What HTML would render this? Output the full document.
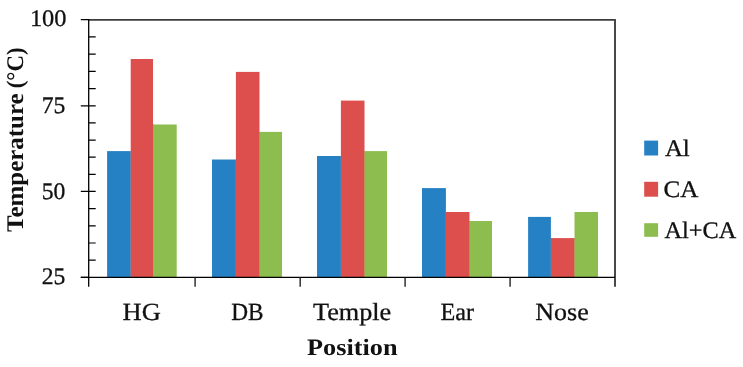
<!DOCTYPE html>
<html lang="en"><head><meta charset="utf-8"><title>Temperature by position</title>
<style>html,body{margin:0;padding:0;background:#fff}svg{display:block}text{font-family:"Liberation Serif",serif;fill:#111;text-rendering:geometricPrecision}text.r{stroke:#111;stroke-width:.3px}</style></head><body>
<svg width="743" height="367" viewBox="0 0 743 367">
<rect width="743" height="367" fill="#fff"/>
<rect x="107.1" y="151.1" width="23.6" height="126.3" fill="#2581c4"/>
<rect x="130.5" y="151.1" width="1.2" height="126.3" fill="#2581c4"/>
<rect x="130.7" y="59.0" width="22.3" height="218.4" fill="#dd4f4d"/>
<rect x="152.8" y="124.5" width="1.2" height="152.9" fill="#dd4f4d"/>
<rect x="153.0" y="124.5" width="23.7" height="152.9" fill="#8dbd4f"/>
<rect x="212.0" y="159.5" width="23.9" height="117.9" fill="#2581c4"/>
<rect x="235.7" y="159.5" width="1.2" height="117.9" fill="#2581c4"/>
<rect x="235.9" y="71.9" width="23.6" height="205.5" fill="#dd4f4d"/>
<rect x="259.3" y="131.9" width="1.2" height="145.5" fill="#dd4f4d"/>
<rect x="259.5" y="131.9" width="22.5" height="145.5" fill="#8dbd4f"/>
<rect x="317.0" y="156.0" width="23.9" height="121.4" fill="#2581c4"/>
<rect x="340.7" y="156.0" width="1.2" height="121.4" fill="#2581c4"/>
<rect x="340.9" y="100.6" width="23.6" height="176.8" fill="#dd4f4d"/>
<rect x="364.3" y="151.1" width="1.2" height="126.3" fill="#dd4f4d"/>
<rect x="364.5" y="151.1" width="22.5" height="126.3" fill="#8dbd4f"/>
<rect x="422.0" y="188.1" width="23.9" height="89.3" fill="#2581c4"/>
<rect x="445.7" y="212.0" width="1.2" height="65.4" fill="#2581c4"/>
<rect x="445.9" y="212.0" width="23.6" height="65.4" fill="#dd4f4d"/>
<rect x="469.3" y="221.0" width="1.2" height="56.4" fill="#dd4f4d"/>
<rect x="469.5" y="221.0" width="22.5" height="56.4" fill="#8dbd4f"/>
<rect x="528.1" y="216.9" width="22.8" height="60.5" fill="#2581c4"/>
<rect x="550.7" y="238.1" width="1.2" height="39.3" fill="#2581c4"/>
<rect x="550.9" y="238.1" width="23.6" height="39.3" fill="#dd4f4d"/>
<rect x="574.3" y="238.1" width="1.2" height="39.3" fill="#dd4f4d"/>
<rect x="574.5" y="212.0" width="23.5" height="65.4" fill="#8dbd4f"/>
<path d="M88.7 19.85H615.8" fill="none" stroke="#3c3c3c" stroke-width="1.55"/>
<path d="M615.0 19.3V286.8" fill="none" stroke="#444" stroke-width="1.95"/>
<path d="M88.7 19.1V286.7M80.8 277.4H615.0" fill="none" stroke="#000" stroke-width="1.3"/>
<path d="M80.8 277.40H88.7M88.7 260.20H95.7M88.7 243.00H95.7M88.7 225.80H95.7M88.7 208.60H95.7M80.8 191.40H88.7M88.7 191.40H95.7M88.7 174.28H95.7M88.7 157.16H95.7M88.7 140.04H95.7M88.7 122.92H95.7M80.8 105.80H88.7M88.7 105.80H95.7M88.7 88.57H95.7M88.7 71.34H95.7M88.7 54.11H95.7M88.7 36.88H95.7M80.8 19.65H88.7" fill="none" stroke="#000" stroke-width="1.2"/>
<path d="M195.1 277.4V286.8M300.2 277.4V286.8M405.1 277.4V286.8M510.1 277.4V286.8" fill="none" stroke="#333" stroke-width="1.5"/>
<text class="r" x="66.5" y="26.3" font-size="23.7" text-anchor="end" textLength="36.6" lengthAdjust="spacingAndGlyphs">100</text>
<text class="r" x="65.3" y="113.0" font-size="23.7" text-anchor="end" textLength="23.6" lengthAdjust="spacingAndGlyphs">75</text>
<text class="r" x="65.3" y="198.9" font-size="23.7" text-anchor="end" textLength="23.6" lengthAdjust="spacingAndGlyphs">50</text>
<text class="r" x="65.3" y="284.4" font-size="23.7" text-anchor="end" textLength="23.6" lengthAdjust="spacingAndGlyphs">25</text>
<text class="r" x="141.7" y="319.6" font-size="24.7" text-anchor="middle" textLength="38.2" lengthAdjust="spacingAndGlyphs">HG</text>
<text class="r" x="247.4" y="319.6" font-size="24.7" text-anchor="middle" textLength="32.4" lengthAdjust="spacingAndGlyphs">DB</text>
<text class="r" x="352.1" y="319.6" font-size="24.7" text-anchor="middle" textLength="78.3" lengthAdjust="spacingAndGlyphs">Temple</text>
<text class="r" x="457.3" y="319.6" font-size="24.7" text-anchor="middle" textLength="33.6" lengthAdjust="spacingAndGlyphs">Ear</text>
<text class="r" x="562.0" y="319.6" font-size="24.7" text-anchor="middle" textLength="53.4" lengthAdjust="spacingAndGlyphs">Nose</text>
<text x="352.3" y="355.3" font-size="23.5" font-weight="bold" text-anchor="middle" textLength="90.4" lengthAdjust="spacingAndGlyphs">Position</text>
<text transform="translate(23.2 231.6) rotate(-90)" font-size="23.9" font-weight="bold"><tspan x="-0.3" y="0" textLength="138.6" lengthAdjust="spacingAndGlyphs">Temperature</tspan><tspan x="137.6" y="0" textLength="46.6" lengthAdjust="spacingAndGlyphs"> (°C)</tspan></text>
<rect x="644.2" y="140.6" width="13.9" height="14.9" fill="#2581c4"/>
<text class="r" x="664.9" y="155.5" font-size="23.7" textLength="24.9" lengthAdjust="spacingAndGlyphs">Al</text>
<rect x="644.2" y="181.8" width="13.9" height="14.9" fill="#dd4f4d"/>
<text class="r" x="663.5" y="196.6" font-size="23.7" textLength="34.9" lengthAdjust="spacingAndGlyphs">CA</text>
<rect x="644.2" y="223.2" width="13.9" height="13.6" fill="#8dbd4f"/>
<text class="r" x="664.6" y="237.9" font-size="23.7" textLength="71.6" lengthAdjust="spacingAndGlyphs">Al+CA</text>
</svg></body></html>
